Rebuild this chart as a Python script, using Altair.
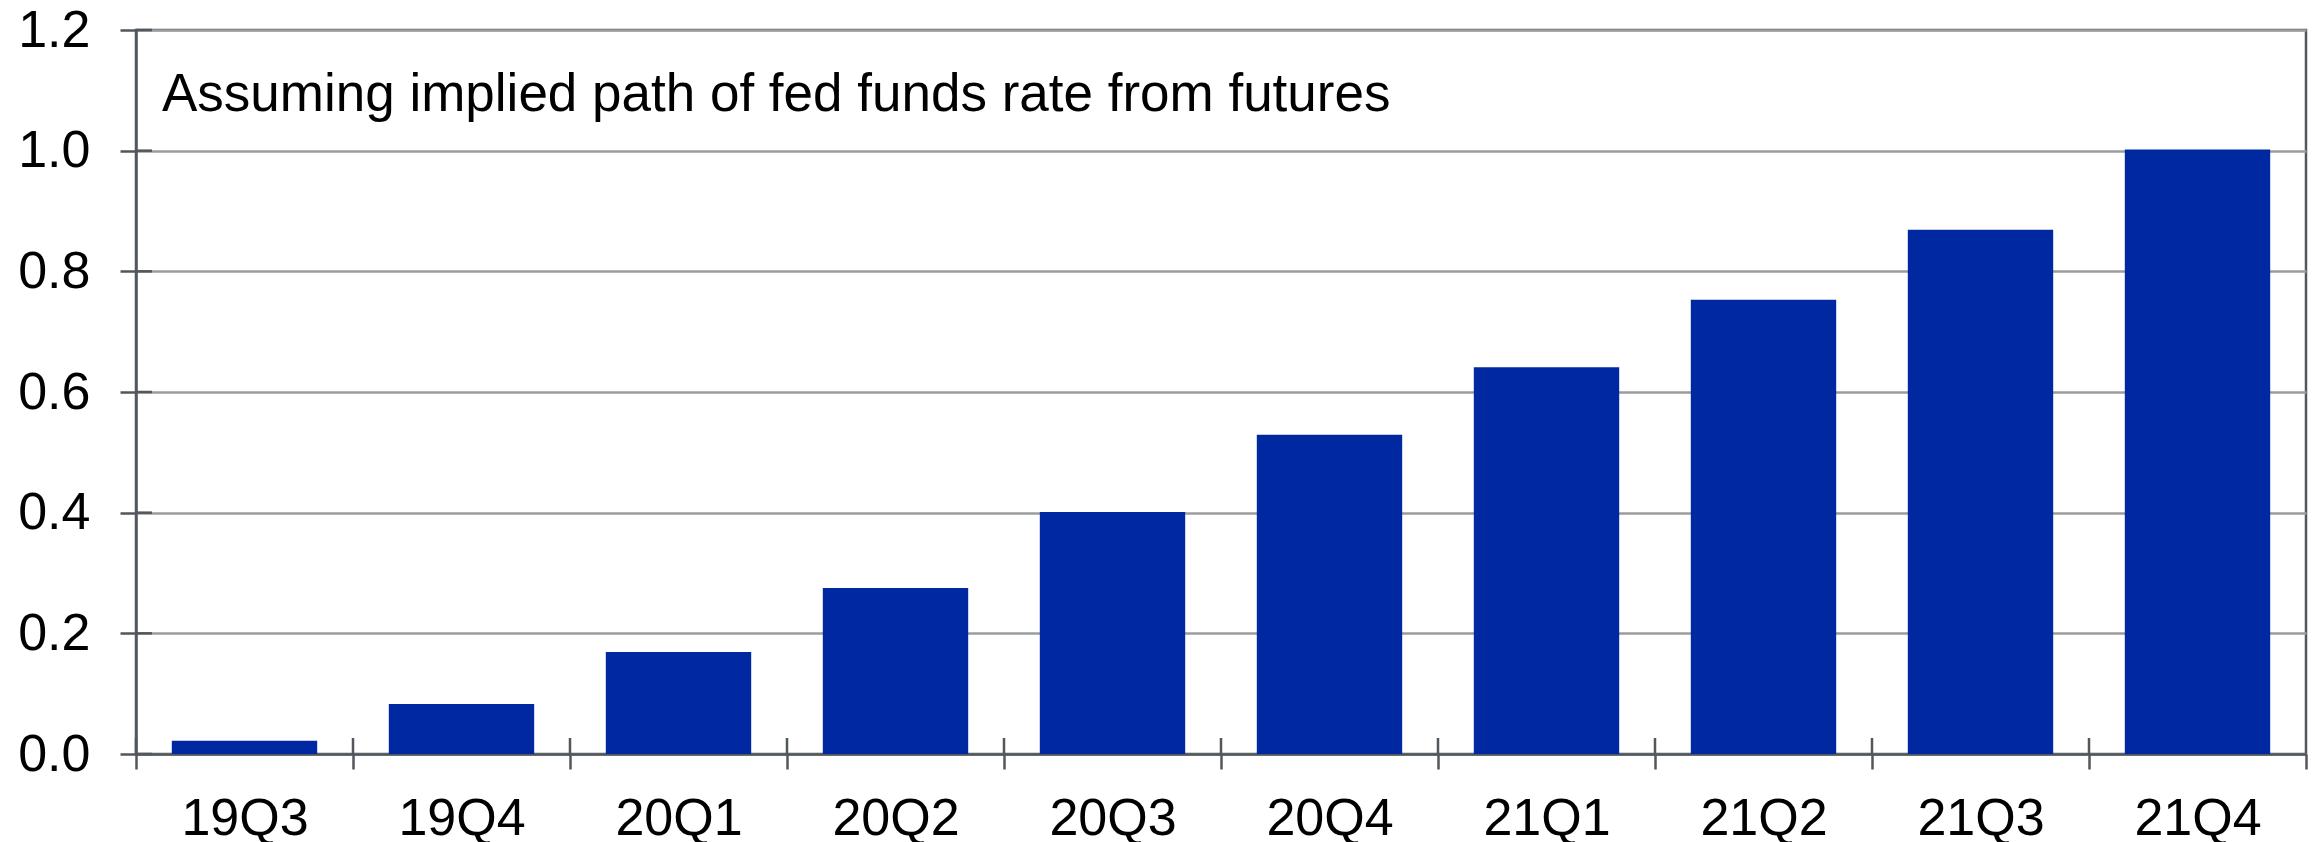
import altair as alt
import pandas as pd

quarters = ["19Q3", "19Q4", "20Q1", "20Q2", "20Q3", "20Q4", "21Q1", "21Q2", "21Q3", "21Q4"]
values = [0.022, 0.083, 0.169, 0.275, 0.401, 0.529, 0.641, 0.753, 0.869, 1.002]
y_ticks = [0.0, 0.2, 0.4, 0.6, 0.8, 1.0, 1.2]
note = ["Assuming implied path of fed funds rate from futures"]

W, H = 2170, 724
FONT = "Liberation Sans"
AXIS_COL = "#52575c"
GRID_COL = "#9a9c9e"
BAR_COL = "#0029a1"

df = pd.DataFrame({"q": quarters, "v": values})
df_ticks = pd.DataFrame({"t": y_ticks})
df_note = pd.DataFrame({"txt": note})

y_main = alt.Y(
    "v:Q",
    title=None,
    scale=alt.Scale(domain=[0, 1.2], nice=False, zero=True),
    axis=alt.Axis(
        values=y_ticks,
        format=".1f",
        tickSize=16,
        tickColor=AXIS_COL,
        tickWidth=2.5,
        domainColor=AXIS_COL,
        domainWidth=2.5,
        gridColor=GRID_COL,
        gridWidth=2.5,
        labelFont=FONT,
        labelFontSize=52,
        labelColor="#000000",
        labelPadding=30,
    ),
)

bars = alt.Chart(df).mark_bar(color=BAR_COL).encode(
    x=alt.X("q:N", sort=quarters, title=None,
            scale=alt.Scale(paddingInner=0.33, paddingOuter=0.165), axis=None),
    y=y_main,
)

# inward parts of the y ticks
y_in = alt.Chart(df_ticks).mark_rule(color=AXIS_COL, strokeWidth=2.5).encode(
    y=alt.Y("t:Q"),
    x=alt.value(0),
    x2=alt.value(16),
)

text = alt.Chart(df_note).mark_text(
    align="left", baseline="alphabetic", font=FONT, fontSize=53, color="#000000"
).encode(x=alt.value(26), y=alt.value(81), text="txt:N")

# x axis on an unpadded band scale: ticks at category boundaries, plus inward tick parts
x_axis_layer = alt.Chart(df).mark_rule(color=AXIS_COL, strokeWidth=2.5).encode(
    x=alt.X(
        "q:N", sort=quarters, title=None, bandPosition=0,
        scale=alt.Scale(paddingInner=0, paddingOuter=0),
        axis=alt.Axis(
            tickBand="extent",
            tickSize=15,
            tickColor=AXIS_COL,
            tickWidth=2.5,
            domainColor=AXIS_COL,
            domainWidth=2.5,
            labelFont=FONT,
            labelFontSize=52,
            labelColor="#000000",
            labelPadding=24,
            labelAngle=0,
            grid=False,
        ),
    ),
    y=alt.value(H - 16),
    y2=alt.value(H),
)

inner = alt.layer(bars, y_in, text)
chart = alt.layer(inner, x_axis_layer).resolve_scale(x="independent").properties(
    width=W,
    height=H,
    autosize=alt.AutoSizeParams(type="none"),
    padding={"left": 136, "top": 30, "right": 9, "bottom": 88},
    background="#ffffff",
).configure_view(stroke=AXIS_COL, strokeWidth=2.5)

chart.save("out.html", embed_options={"renderer": "svg", "actions": False})
